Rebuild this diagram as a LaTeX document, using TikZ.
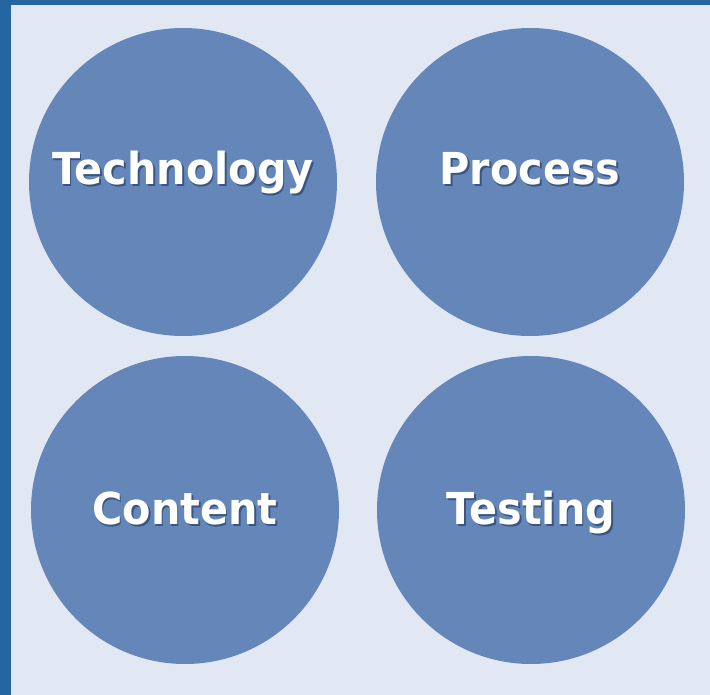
\documentclass[tikz,border=0pt]{standalone}
\usepackage{fontspec}
\newfontfamily\bubblefont{DejaVu Sans}[FakeStretch=0.94]
\usetikzlibrary{positioning}
\definecolor{frame}{HTML}{2566A0}
\definecolor{paper}{HTML}{E1E8F4}
\definecolor{bubblefill}{HTML}{6486B8}
\definecolor{shade}{HTML}{3A5680}
\newcommand{\shtext}[1]{\rlap{\kern1.6pt\raisebox{-2pt}{\textcolor{shade}{#1}}}#1}

\begin{document}
\begin{tikzpicture}[x=1pt,y=-1pt,node distance=347pt,auto]
        \tikzstyle{bubble}=[circle,fill=bubblefill,draw=none,minimum size=308pt,inner sep=0pt,
                text=white,font=\bubblefont\fontsize{44}{44}\selectfont\bfseries]
        \tikzstyle{toprow}=[bubble,text height=12pt,text depth=6pt]
        \tikzstyle{lowrow}=[bubble,text height=28pt,text depth=0pt]

        \useasboundingbox (0,0) rectangle (710,695);
        \fill[frame] (0,0) rectangle (710,695);
        \fill[paper] (11,5) rectangle (710,695);

        \node[toprow]  (T01) at (183,182)            {\shtext{Technology}};
        \node[toprow]  (T02) [right of=T01]          {\shtext{Process}};
        \node[lowrow]  (T03) at (185,510)            {\shtext{Content}};
        \node[lowrow]  (T04) [right of=T03, node distance=346pt] {\shtext{Testing}};
\end{tikzpicture}
\end{document}
